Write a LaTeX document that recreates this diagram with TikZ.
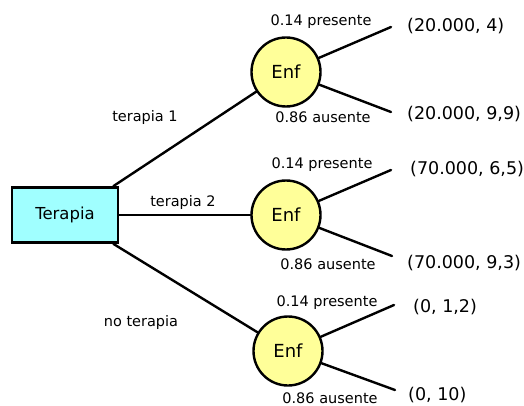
\documentclass[tikz,border=0pt]{standalone}
\usepackage{fontspec}
\setmainfont{DejaVu Sans}
\definecolor{boxfill}{RGB}{160,255,255}
\definecolor{nodefill}{RGB}{255,255,153}
\begin{document}
\begin{tikzpicture}[x=1pt,y=-1pt,
  line width=2.4pt,
  decision/.style={draw=black, line width=2.8pt, fill=boxfill, minimum width=106pt, minimum height=55pt, inner sep=0pt, font=\fontsize{16.5}{18}\selectfont},
  chance/.style={circle, draw=black, line width=2.4pt, fill=nodefill, minimum size=69pt, inner sep=0pt, font=\fontsize{18}{20}\selectfont},
  prob/.style={font=\fontsize{14.5}{16}\selectfont, inner sep=0pt},
  payoff/.style={font=\fontsize{17.5}{19}\selectfont, inner sep=0pt, anchor=west},
  branch/.style={line cap=round}
]
\useasboundingbox (0,0) rectangle (524,406);

% decision node
\node[decision] (dec) at (65,215) {Terapia};

% chance nodes
\node[chance] (c1) at (286,72) {Enf};
\node[chance] (c2) at (286,215) {Enf};
\node[chance] (c3) at (288,351) {Enf};

% free ends of the outcome branches
\coordinate (e1a) at (391,27);
\coordinate (e1b) at (391,112);
\coordinate (e2a) at (391,170);
\coordinate (e2b) at (392,256);
\coordinate (e3a) at (394,305);
\coordinate (e3b) at (395,390);

% decision branches
\draw[branch] ([xshift=-6pt]dec.north east) -- (c1);
\draw[branch] (dec.east) -- (c2);
\draw[branch] ([xshift=-6pt]dec.south east) -- (c3);

% outcome branches
\draw[branch] (c1) -- (e1a);
\draw[branch] (c1) -- (e1b);
\draw[branch] (c2) -- (e2a);
\draw[branch] (c2) -- (e2b);
\draw[branch] (c3) -- (e3a);
\draw[branch] (c3) -- (e3b);

% branch labels
\node[prob] (l1) at (145,118) {terapia 1};
\node[prob] (l2) at (183,202) {terapia 2};
\node[prob] (l3) at (141,322) {no terapia};

\node[prob] (p1a) at (321,22) {0.14 presente};
\node[prob] (p1b) at (323,117) {0.86 ausente};
\node[prob] (p2a) at (322,165) {0.14 presente};
\node[prob] (p2b) at (328,264) {0.86 ausente};
\node[prob] (p3a) at (327,303) {0.14 presente};
\node[prob] (p3b) at (330,398) {0.86 ausente};

% payoffs
\node[payoff] (o1a) at (406,26) {(20.000, 4)};
\node[payoff] (o1b) at (406,114) {(20.000, 9,9)};
\node[payoff] (o2a) at (409,169) {(70.000, 6,5)};
\node[payoff] (o2b) at (406,263) {(70.000, 9,3)};
\node[payoff] (o3a) at (412,307) {(0, 1,2)};
\node[payoff] (o3b) at (407,395) {(0, 10)};
\end{tikzpicture}
\end{document}
